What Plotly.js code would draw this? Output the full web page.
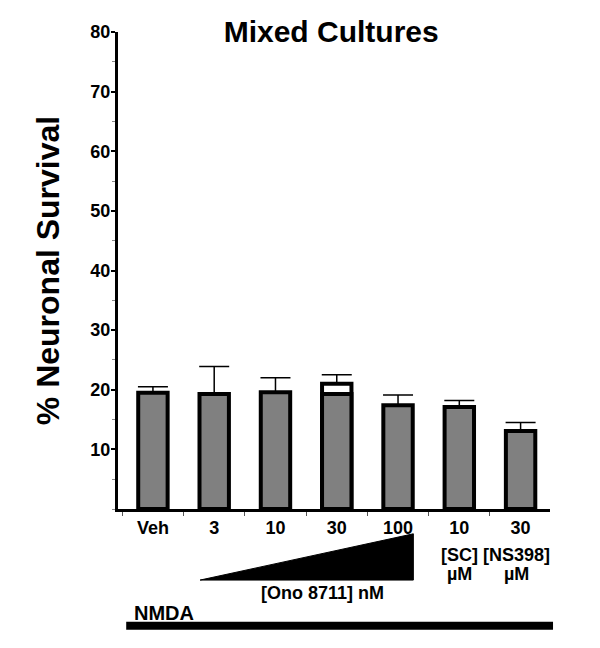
<!DOCTYPE html>
<html>
<head>
<meta charset="utf-8">
<script src="https://cdn.plot.ly/plotly-3.0.1.min.js"></script>
<style>
  body { margin: 0; background: #fff; }
  #chart { width: 600px; height: 648px; }
</style>
</head>
<body>
<div id="chart"></div>
<script>
// bar positions and labels
var xPos = [0, 1, 2, 3, 4, 5, 6];
var tickLabels = ['Veh', '3', '10', '30', '100', '10', '30'];

// % neuronal survival (mean) and upper error
var survival = [19.5, 19.3, 19.6, 19.3, 17.4, 17.1, 13.1];
var errUp = [1.0, 4.6, 2.4, 0, 1.7, 1.1, 1.4];

// the 30 nM group has a second, taller outlined bar behind it
var outerX = [3];
var outerY = [21.0];
var outerErr = [1.5];

var font = 'Liberation Sans, Arial, sans-serif';

var outer = {
    x: outerX,
    y: outerY,
    type: 'bar',
    width: 0.48,
    marker: {color: '#ffffff', line: {color: '#000', width: 4}},
    error_y: {type: 'data', array: outerErr, symmetric: false, arrayminus: [0],
              color: '#000', thickness: 1.5, width: 15},
    hoverinfo: 'y'
};

var main = {
    x: xPos,
    y: survival,
    type: 'bar',
    width: 0.48,
    marker: {color: '#808080', line: {color: '#000', width: 4}},
    error_y: {type: 'data', array: errUp, symmetric: false, arrayminus: errUp.map(function() { return 0; }),
              color: '#000', thickness: 1.5, width: 15},
    hoverinfo: 'y'
};

function note(text, x, y, xref, size, anchor) {
    return {text: text, x: x, y: y, xref: xref, yref: 'paper', showarrow: false,
            xanchor: anchor || 'center', yanchor: 'middle',
            font: {family: font, size: size, weight: 'bold', color: '#000'}};
}

var layout = {
    width: 600,
    height: 648,
    margin: {l: 118, r: 50, t: 32, b: 139},
    showlegend: false,
    barmode: 'overlay',
    paper_bgcolor: '#fff',
    plot_bgcolor: '#fff',
    font: {family: font, color: '#000', size: 18, weight: 'bold'},
    title: {
        text: 'Mixed Cultures',
        font: {family: font, size: 30, weight: 'bold', color: '#000'},
        x: 0.552, xref: 'container', xanchor: 'center',
        y: 0.951, yref: 'container', yanchor: 'middle'
    },
    xaxis: {
        range: [-0.57, 6.48],
        tickvals: xPos,
        ticktext: tickLabels,
        ticks: '',
        showline: true, linewidth: 3, linecolor: '#000',
        showgrid: false, zeroline: false,
        tickfont: {family: font, size: 18, weight: 'bold'},
        minor: {tick0: 0.5, dtick: 1, ticks: 'outside', ticklen: 4, tickwidth: 1, tickcolor: '#555'}
    },
    yaxis: {
        range: [0, 80],
        tickvals: [10, 20, 30, 40, 50, 60, 70, 80],
        ticks: 'outside', ticklen: 4, tickwidth: 2, tickcolor: '#000',
        ticklabelstandoff: -3,
        showline: true, linewidth: 3, linecolor: '#000',
        showgrid: false, zeroline: false,
        tickfont: {family: font, size: 18, weight: 'bold'},
        minor: {dtick: 5, ticks: 'outside', ticklen: 3, tickwidth: 1, tickcolor: '#888'},
        title: {
            text: '% Neuronal Survival',
            font: {family: font, size: 32, weight: 'bold', color: '#000'},
            standoff: 22
        }
    },
    shapes: [
        // rising wedge under the Ono 8711 doses
        {type: 'path', xref: 'x', yref: 'paper',
         path: 'M 0.77 -0.149 L 4.25 -0.052 L 4.25 -0.149 Z',
         fillcolor: '#000', line: {color: '#000', width: 1}},
        // NMDA bar under all groups
        {type: 'line', xref: 'paper', yref: 'paper',
         x0: 0.019, x1: 1.007, y0: -0.245, y1: -0.245,
         line: {color: '#000', width: 8}}
    ],
    annotations: [
        note('[SC]', 5, -0.0964, 'x', 18),
        note('µM', 5, -0.136, 'x', 18),
        note('[NS398]', 5.93, -0.0964, 'x', 18),
        note('µM', 5.93, -0.136, 'x', 18),
        note('[Ono 8711] nM', 2.76, -0.176, 'x', 18),
        note('NMDA', 0.032, -0.218, 'paper', 20, 'left')
    ]
};

Plotly.newPlot('chart', [outer, main], layout, {displayModeBar: false});
</script>
</body>
</html>
